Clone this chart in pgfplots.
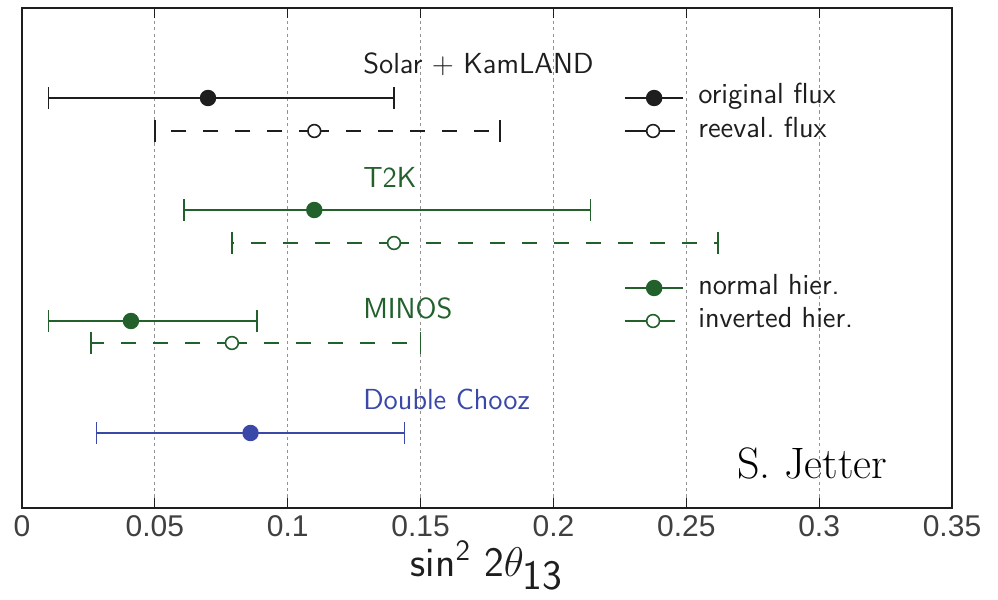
\documentclass[border=0pt]{standalone}
\usepackage{fontspec}
\usepackage{pgfplots}
\pgfplotsset{compat=1.18}
\newfontfamily\tickfont{Liberation Sans}
\definecolor{dkgreen}{RGB}{34,96,44}
\definecolor{dblue}{RGB}{58,72,168}
\definecolor{blk}{RGB}{30,30,30}
\begin{document}
\begin{tikzpicture}
\begin{axis}[
  width=465pt, height=250pt, scale only axis,
  xmin=0, xmax=0.35, ymin=8, ymax=508, y dir=reverse,
  xtick={0,0.05,0.1,0.15,0.2,0.25,0.3,0.35},
  ytick=\empty,
  xmajorgrids, grid style={dash pattern=on 1.6pt off 1.6pt, gray!85, line width=0.6pt},
  tick align=inside, major tick length=5pt, xtick pos=both,
  tick style={blk, line width=0.6pt},
  axis line style={line width=0.8pt, blk},
  xticklabel style={font=\tickfont\fontsize{15}{18}\selectfont, text=blk!85},
  /pgf/number format/assume math mode=true,
  /pgf/number format/fixed,
  xlabel={\sffamily sin\textsuperscript{2} 2$\theta_{\textsf{13}}$},
  xlabel style={at={(axis description cs:0.5,-0.136)}, anchor=base, font=\sffamily\fontsize{21}{24}\selectfont, text=blk},
  clip=false,
  every axis plot/.append style={line width=0.8pt},
  solidbar/.style={only marks, mark=*, mark size=3.7pt,
     error bars/.cd, x dir=both, x explicit, error mark=|,
     error bar style={line width=0.8pt, solid},
     error mark options={solid, line width=0.8pt, mark size=5.5pt}},
  dashbar/.style={only marks, mark=*, mark size=3.2pt, mark options={fill=white, line width=0.8pt},
     error bars/.cd, x dir=both, x explicit, error mark=|,
     error bar style={line width=0.8pt, dash pattern=on 7.5pt off 8.5pt},
     error mark options={solid, line width=0.8pt, mark size=5.5pt}},
]
% Solar + KamLAND
\addplot[blk, solidbar] coordinates {(0.070,98) += (0.070,0) -= (0.060,0)};
\addplot[blk, dashbar] coordinates {(0.110,131) += (0.070,0) -= (0.060,0)};
% T2K
\addplot[dkgreen, solidbar] coordinates {(0.110,210) += (0.104,0) -= (0.049,0)};
\addplot[dkgreen, dashbar] coordinates {(0.140,243) += (0.122,0) -= (0.061,0)};
% MINOS
\addplot[dkgreen, solidbar] coordinates {(0.041,321) += (0.0475,0) -= (0.031,0)};
\addplot[dkgreen, dashbar] coordinates {(0.079,343) += (0.071,0) -= (0.053,0)};
% Double Chooz
\addplot[dblue, solidbar] coordinates {(0.086,433) += (0.058,0) -= (0.058,0)};

% legend samples
\addplot[blk, mark=*, mark size=3.7pt, mark indices={2}] coordinates {(0.2269,98) (0.2379,98) (0.2488,98)};
\addplot[blk, mark=*, mark size=3.2pt, mark options={fill=white}, mark indices={2}] coordinates {(0.2269,131) (0.2375,131) (0.2457,131)};
\addplot[dkgreen, mark=*, mark size=3.7pt, mark indices={2}] coordinates {(0.2269,288) (0.2379,288) (0.2488,288)};
\addplot[dkgreen, mark=*, mark size=3.2pt, mark options={fill=white}, mark indices={2}] coordinates {(0.2269,321) (0.2375,321) (0.2457,321)};

\begin{scope}[every node/.style={font=\sffamily\fontsize{14.5}{17}\selectfont, inner sep=0pt}]
\node[anchor=base west, text=blk] at (axis cs:0.1283,73) {Solar + KamLAND};
\node[anchor=base west, text=dkgreen] at (axis cs:0.1283,187) {T2K};
\node[anchor=base west, text=dkgreen] at (axis cs:0.1283,318) {MINOS};
\node[anchor=base west, text=dblue] at (axis cs:0.1283,409) {Double Chooz};
\node[anchor=base west, text=blk] at (axis cs:0.2544,104) {original flux};
\node[anchor=base west, text=blk] at (axis cs:0.2544,137) {reeval.\ flux};
\node[anchor=base west, text=blk] at (axis cs:0.2544,294) {normal hier.};
\node[anchor=base west, text=blk] at (axis cs:0.2544,327) {inverted hier.};
\end{scope}
\node[anchor=base west, font=\rmfamily\fontsize{22}{26}\selectfont, inner sep=0pt] at (axis cs:0.2691,478) {S. Jetter};

\coordinate (BL) at (axis description cs:-0.02366,-0.184);
\coordinate (TR) at (axis description cs:1.04946,1.016);
\end{axis}
\pgfresetboundingbox
\useasboundingbox (BL) rectangle (TR);
\end{tikzpicture}
\end{document}
